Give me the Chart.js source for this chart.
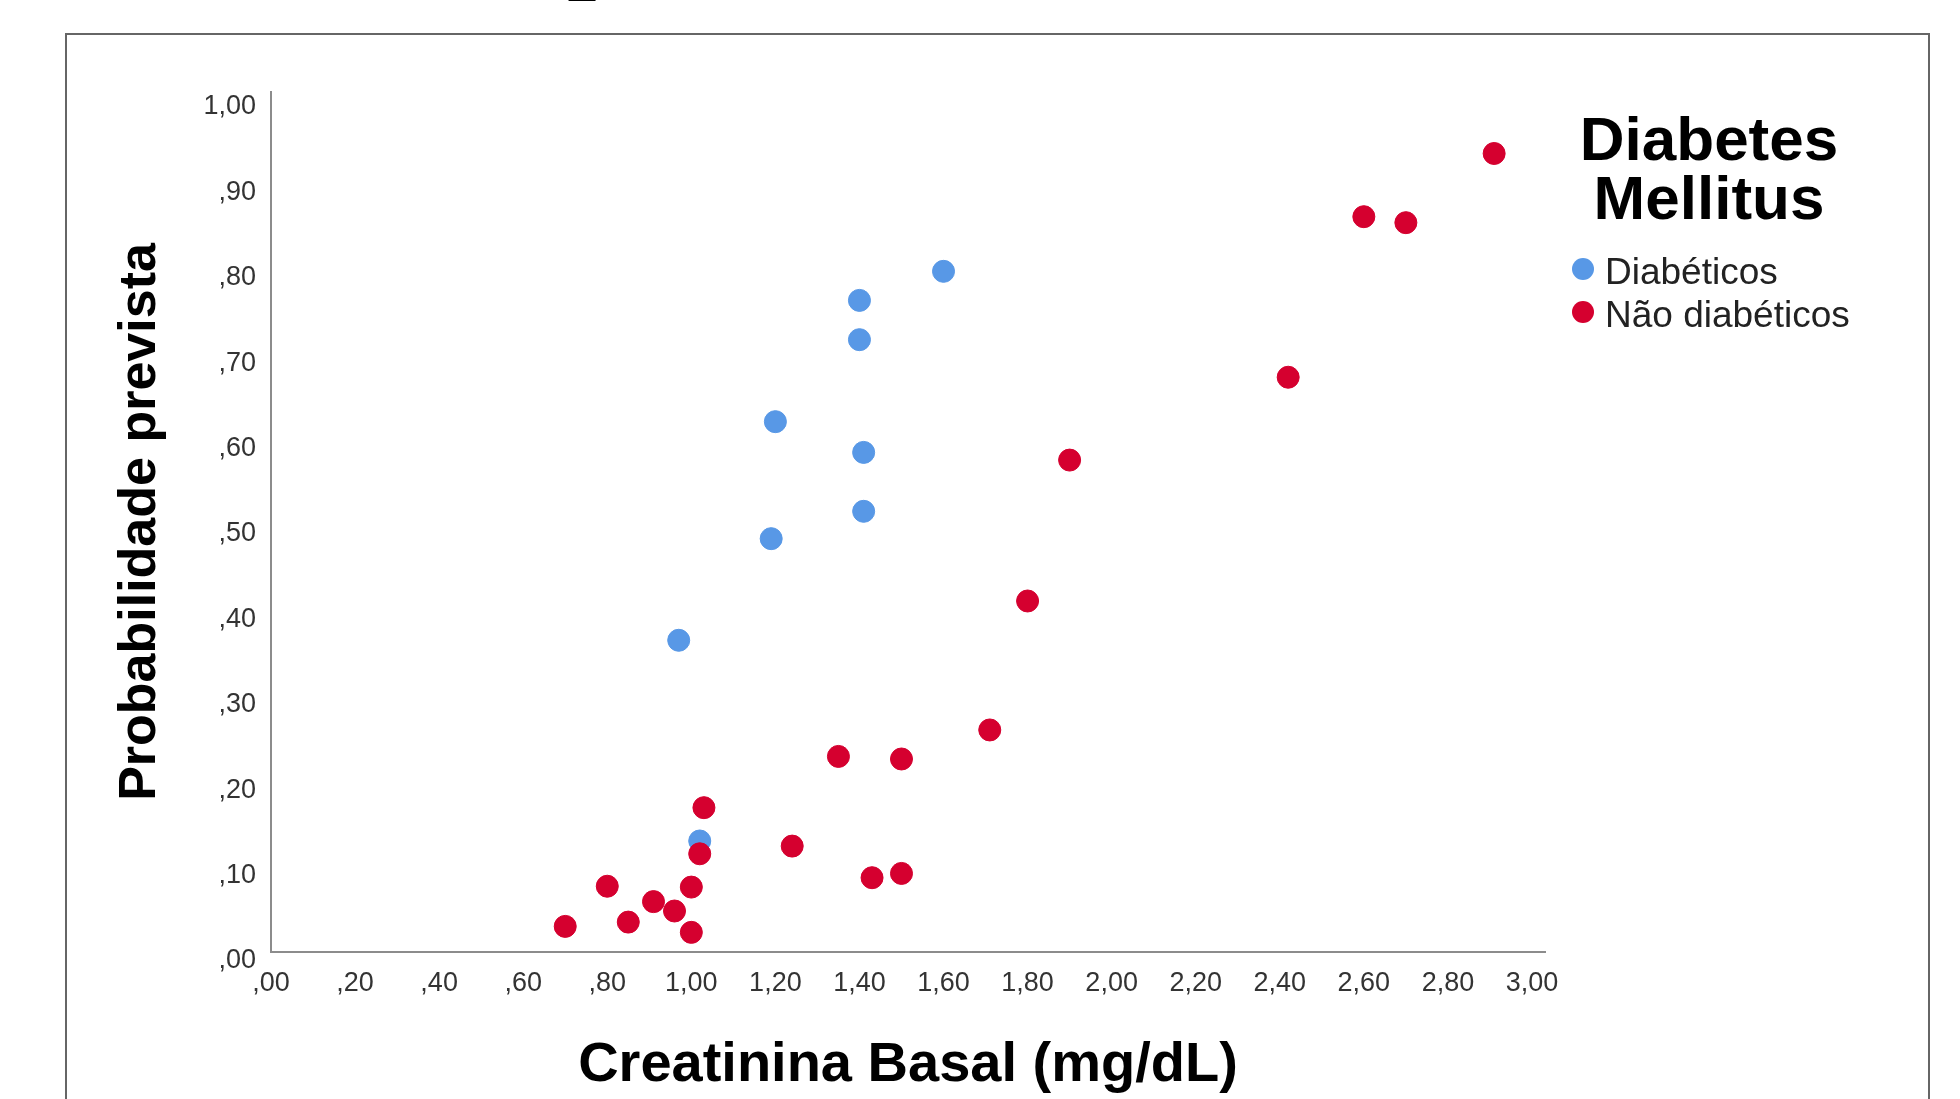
<!DOCTYPE html>
<html>
<head>
<meta charset="utf-8">
<script src="https://cdn.jsdelivr.net/npm/chart.js@4"></script>
<style>
  body { margin: 0; background: #fff; }
  #wrap { width: 1960px; height: 1099px; }
</style>
</head>
<body>
<div id="wrap"><canvas id="myScatter" width="1960" height="1099"></canvas></div>
<script>
// eixos
const xTicks = [0, 0.2, 0.4, 0.6, 0.8, 1.0, 1.2, 1.4, 1.6, 1.8, 2.0, 2.2, 2.4, 2.6, 2.8, 3.0];
const xTickLabels = [',00', ',20', ',40', ',60', ',80', '1,00', '1,20', '1,40', '1,60', '1,80', '2,00', '2,20', '2,40', '2,60', '2,80', '3,00'];
const yTicks = [0, 0.1, 0.2, 0.3, 0.4, 0.5, 0.6, 0.7, 0.8, 0.9, 1.0];
const yTickLabels = [',00', ',10', ',20', ',30', ',40', ',50', ',60', ',70', ',80', ',90', '1,00'];

// grupos
const groupNames = ['Diabéticos', 'Não diabéticos'];
const groupColors = ['#5898e6', '#d5002f'];

// Diabéticos
const diabeticosX = [1.60, 1.40, 1.40, 1.20, 1.41, 1.41, 1.19, 0.97, 1.02];
const diabeticosY = [0.797, 0.763, 0.717, 0.621, 0.585, 0.516, 0.484, 0.365, 0.130];

// Não diabéticos
const naoDiabeticosX = [2.91, 2.60, 2.70, 2.42, 1.90, 1.80, 1.71, 1.35, 1.50, 1.03, 1.24, 1.02, 1.43, 1.50, 0.80, 1.00, 0.91, 0.96, 0.70, 0.85, 1.00];
const naoDiabeticosY = [0.935, 0.861, 0.854, 0.673, 0.576, 0.411, 0.260, 0.229, 0.226, 0.169, 0.124, 0.115, 0.087, 0.092, 0.077, 0.076, 0.059, 0.048, 0.030, 0.035, 0.023];

const toPoints = (xs, ys) => xs.map((x, i) => ({ x: x, y: ys[i] }));

const FONT = '"Liberation Sans", Arial, sans-serif';

// moldura, traço do título cortado e legenda
const framePlugin = {
    id: 'framePlugin',
    beforeDraw(chart) {
        const ctx = chart.ctx;
        ctx.save();
        ctx.fillStyle = '#ffffff';
        ctx.fillRect(0, 0, chart.width, chart.height);
        ctx.strokeStyle = '#666666';
        ctx.lineWidth = 2;
        ctx.strokeRect(66, 34, 1863, 1200);
        ctx.fillStyle = '#000000';
        ctx.font = 'bold 47px ' + FONT;
        ctx.textAlign = 'center';
        ctx.textBaseline = 'alphabetic';
        ctx.fillText('_', 582, -5);
        ctx.restore();
    },
    afterDraw(chart) {
        const ctx = chart.ctx;
        ctx.save();
        ctx.fillStyle = '#000000';
        ctx.textAlign = 'center';
        ctx.textBaseline = 'middle';
        ctx.font = 'bold 62px ' + FONT;
        ctx.fillText('Diabetes', 1709, 143);
        ctx.fillText('Mellitus', 1709, 202);
        ctx.font = '37px ' + FONT;
        ctx.textAlign = 'left';
        chart.data.datasets.forEach((ds, i) => {
            const yy = 269 + i * 43;
            ctx.beginPath();
            ctx.arc(1583, yy, 11, 0, Math.PI * 2);
            ctx.fillStyle = ds.backgroundColor;
            ctx.fill();
            ctx.fillStyle = '#222222';
            ctx.fillText(ds.label, 1605, yy + 5);
        });
        ctx.restore();
    }
};

new Chart(document.getElementById('myScatter'), {
    type: 'scatter',
    data: {
        datasets: [
            {
                label: groupNames[0],
                data: toPoints(diabeticosX, diabeticosY),
                backgroundColor: groupColors[0],
                borderColor: groupColors[0],
                pointRadius: 11,
                borderWidth: 1,
                order: 2,
            },
            {
                label: groupNames[1],
                data: toPoints(naoDiabeticosX, naoDiabeticosY),
                backgroundColor: groupColors[1],
                borderColor: groupColors[1],
                pointRadius: 11,
                borderWidth: 1,
                order: 1,
            }
        ],
    },
    options: {
        responsive: false,
        animation: false,
        layout: { padding: { left: 0, right: 415, top: 92, bottom: 0 } },
        plugins: {
            legend: { display: false },
            tooltip: { enabled: false },
        },
        scales: {
            x: {
                type: 'linear',
                min: 0,
                max: 3.031,
                afterBuildTicks: scale => { scale.ticks = xTicks.map(v => ({ value: v })); },
                afterFit: scale => { scale.height = 147; },
                grid: { display: false, drawTicks: false },
                border: { display: true, color: '#8c8c8c', width: 2 },
                ticks: {
                    autoSkip: false,
                    maxRotation: 0,
                    padding: 15,
                    color: '#333333',
                    font: { family: FONT, size: 27 },
                    callback: (v, i) => xTickLabels[i],
                },
                title: {
                    display: true,
                    text: 'Creatinina Basal (mg/dL)',
                    color: '#000000',
                    font: { family: FONT, size: 56, weight: 'bold' },
                    padding: { top: 0, bottom: 0 },
                },
            },
            y: {
                type: 'linear',
                min: 0,
                max: 1.007,
                afterBuildTicks: scale => { scale.ticks = yTicks.map(v => ({ value: v })); },
                afterFit: scale => { scale.width = 271; },
                grid: { display: false, drawTicks: false },
                border: { display: true, color: '#8c8c8c', width: 2 },
                ticks: {
                    autoSkip: false,
                    padding: 15,
                    labelOffset: 9,
                    color: '#333333',
                    font: { family: FONT, size: 27 },
                    callback: (v, i) => yTickLabels[i],
                },
                title: {
                    display: true,
                    text: 'Probabilidade prevista',
                    color: '#000000',
                    font: { family: FONT, size: 52, weight: 'bold' },
                    padding: { top: 109, bottom: 0 },
                },
            },
        },
    },
    plugins: [framePlugin],
});
</script>
</body>
</html>
